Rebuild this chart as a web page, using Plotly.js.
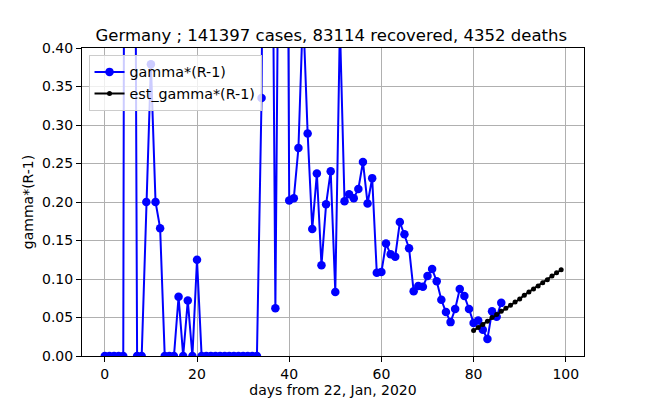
<!DOCTYPE html>
<html>
<head>
<meta charset="utf-8">
<script src="https://cdn.plot.ly/plotly-3.0.1.min.js"></script>
<style>
  html, body { margin: 0; padding: 0; background: #fff; }
  #chart { width: 647px; height: 400px; }
</style>
</head>
<body>
<div id="chart"></div>
<script>
// observed gamma*(R-1), one value per day from 22 Jan 2020
var days = [0, 1, 2, 3, 4, 5, 6, 7, 8, 9, 10, 11, 12, 13, 14, 15, 16, 17, 18, 19,
  20, 21, 22, 23, 24, 25, 26, 27, 28, 29, 30, 31, 32, 33, 34, 35, 36, 37, 38, 39,
  40, 41, 42, 43, 44, 45, 46, 47, 48, 49, 50, 51, 52, 53, 54, 55, 56, 57, 58, 59,
  60, 61, 62, 63, 64, 65, 66, 67, 68, 69, 70, 71, 72, 73, 74, 75, 76, 77, 78, 79,
  80, 81, 82, 83, 84, 85, 86];
var gamma = [0, 0, 0, 0, 0, 3.0, 1.5, 0, 0, 0.200, 0.379, 0.200, 0.166, 0, 0, 0, 0.077, 0, 0.072, 0,
  0.125, 0, 0, 0, 0, 0, 0, 0, 0, 0, 0, 0, 0, 0, 0.335, 1.2, 0.9, 0.062, 0.8, 1.4,
  0.202, 0.205, 0.270, 0.45, 0.289, 0.165, 0.237, 0.118, 0.197, 0.240, 0.083, 0.43, 0.201, 0.210, 0.205, 0.217, 0.252, 0.198, 0.231, 0.108,
  0.109, 0.146, 0.132, 0.129, 0.174, 0.158, 0.140, 0.084, 0.091, 0.090, 0.104, 0.113, 0.097, 0.073, 0.057, 0.044, 0.061, 0.087, 0.078, 0.061,
  0.043, 0.046, 0.034, 0.022, 0.058, 0.051, 0.069];

// estimated trend
var estDays = [80, 81, 82, 83, 84, 85, 86, 87, 88, 89, 90, 91, 92, 93, 94, 95, 96, 97, 98, 99];
var estGamma = [0.033, 0.037, 0.041, 0.045, 0.050, 0.054, 0.058, 0.062, 0.066, 0.070,
  0.074, 0.079, 0.083, 0.087, 0.091, 0.095, 0.099, 0.104, 0.108, 0.112];

var xTicks = [0, 20, 40, 60, 80, 100];
var yTicks = [0, 0.05, 0.10, 0.15, 0.20, 0.25, 0.30, 0.35, 0.40];

var titleText = 'Germany ; 141397 cases, 83114 recovered, 4352 deaths';

var trace1 = {
  x: days,
  y: gamma,
  mode: 'lines+markers',
  name: 'gamma*(R-1)',
  line: {color: '#0000ff', width: 2},
  marker: {color: '#0000ff', size: 8.5},
  type: 'scatter'
};

var trace2 = {
  x: estDays,
  y: estGamma,
  mode: 'lines+markers',
  name: 'est_gamma*(R-1)',
  line: {color: '#000000', width: 2},
  marker: {color: '#000000', size: 5},
  type: 'scatter'
};

var axisCommon = {
  showline: true,
  mirror: true,
  linecolor: '#000',
  linewidth: 1,
  ticks: 'outside',
  ticklen: 5,
  tickcolor: '#000',
  showgrid: true,
  gridcolor: '#b0b0b0',
  gridwidth: 1,
  zeroline: false,
  tickfont: {size: 14, color: '#000'}
};

var layout = {
  width: 647,
  height: 400,
  margin: {l: 81.5, r: 63, t: 48, b: 44},
  paper_bgcolor: '#fff',
  plot_bgcolor: '#fff',
  font: {family: 'DejaVu Sans', color: '#000', size: 14},
  title: {
    text: titleText,
    font: {size: 16.5, color: '#000'},
    x: 0.512, xanchor: 'center',
    y: 0.912, yanchor: 'middle'
  },
  xaxis: Object.assign({}, axisCommon, {
    range: [-4.95, 103.95],
    tickvals: xTicks,
    title: {text: 'days from 22, Jan, 2020', font: {size: 14}, standoff: 4}
  }),
  yaxis: Object.assign({}, axisCommon, {
    range: [0, 0.4],
    tickvals: yTicks,
    tickformat: '.2f',
    title: {text: 'gamma*(R-1)', font: {size: 14}, standoff: 5}
  }),
  showlegend: true,
  legend: {
    x: 0.013, y: 0.977,
    xanchor: 'left', yanchor: 'top',
    bgcolor: 'rgba(255,255,255,0.8)',
    bordercolor: '#cccccc',
    borderwidth: 1,
    font: {family: 'DejaVu Sans', size: 14.3, color: '#000'},
    tracegroupgap: 0
  }
};

Plotly.newPlot('chart', [trace1, trace2], layout, {displayModeBar: false, staticPlot: true});
</script>
</body>
</html>
